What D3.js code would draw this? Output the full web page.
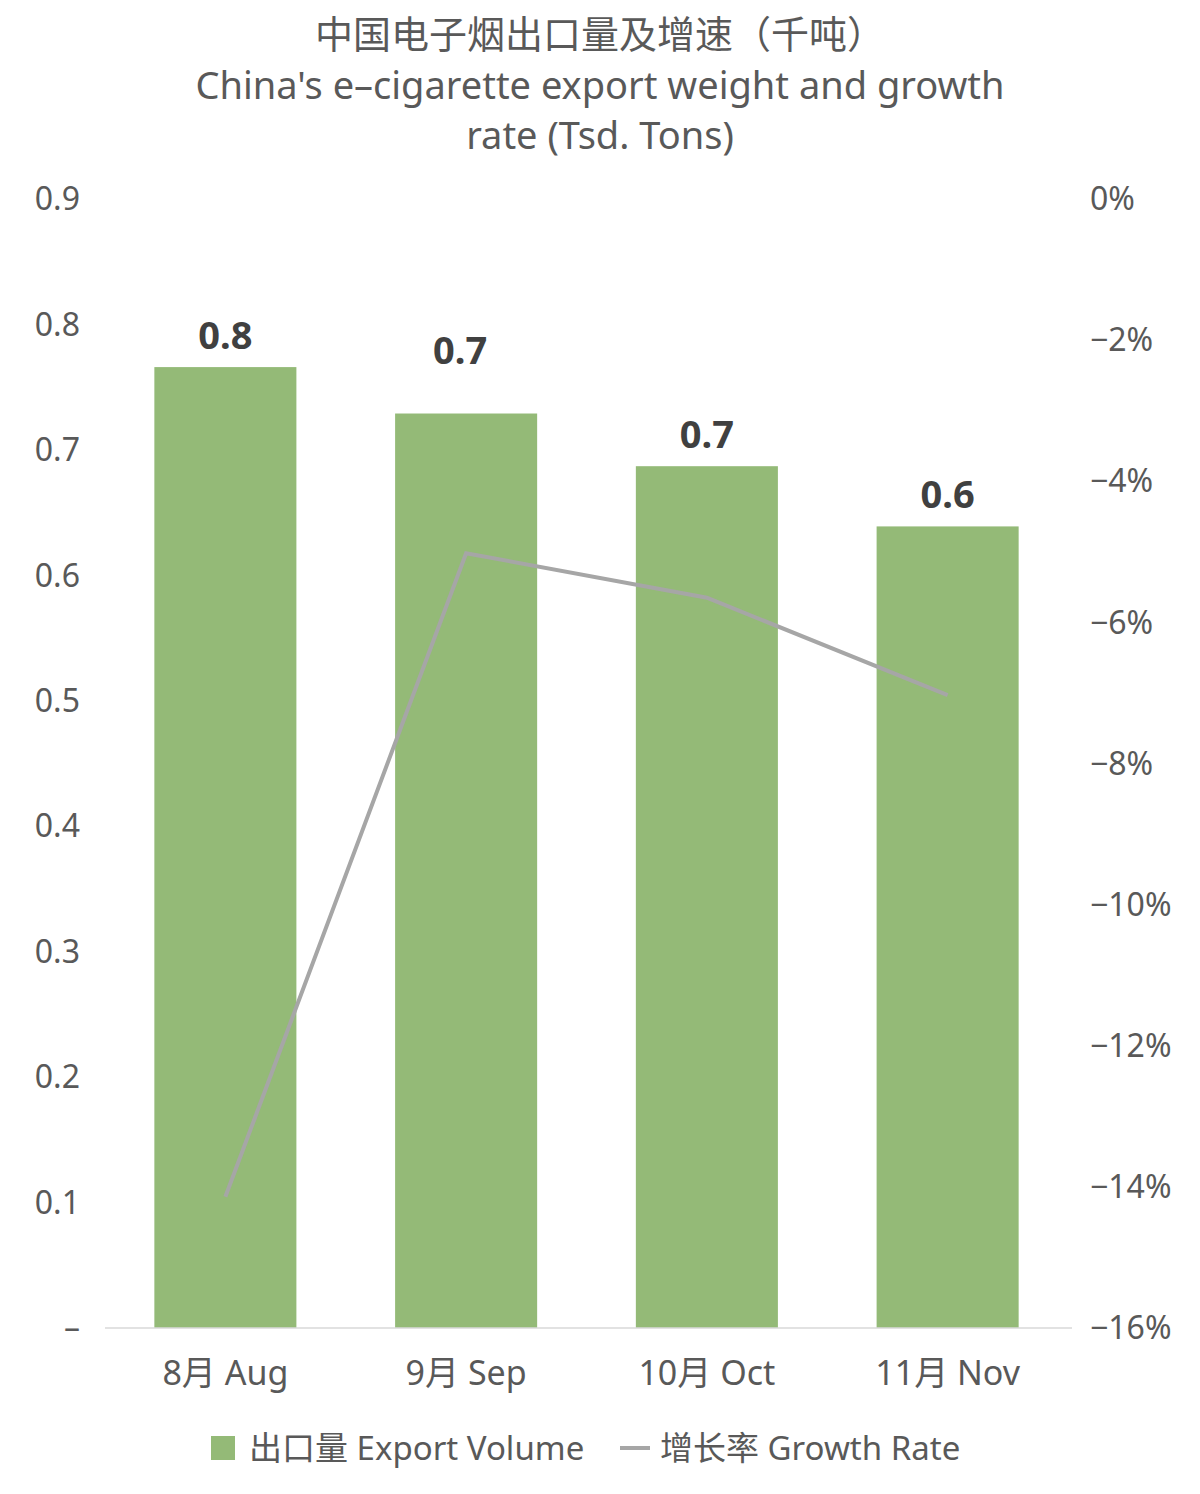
<!DOCTYPE html>
<html><head><meta charset="utf-8">
<script src="https://cdn.jsdelivr.net/npm/d3@7"></script>
<style>
body{margin:0;background:#fff;font-family:"Noto Sans","Noto Sans CJK SC",sans-serif;}
</style></head>
<body><svg id="chart" width="1200" height="1494"></svg>
<script>
const categories = ["8月 Aug", "9月 Sep", "10月 Oct", "11月 Nov"];
const volumes = [0.766, 0.729, 0.687, 0.639];
const volumeLabels = ["0.8", "0.7", "0.7", "0.6"];
const growth = [-14.14, -5.02, -5.65, -7.03];
const leftTicks = [0, 0.1, 0.2, 0.3, 0.4, 0.5, 0.6, 0.7, 0.8, 0.9];
const rightTicks = [0, -2, -4, -6, -8, -10, -12, -14, -16];

const svg = d3.select("#chart");
const margin = { top: 199, bottom: 166, left: 105, right: 132 };
const W = 1200, H = 1494;
const innerH = H - margin.top - margin.bottom;

const x = d3.scaleBand().domain(categories).range([margin.left, W - margin.right]).paddingInner(0.41).paddingOuter(0.205);
const y = d3.scaleLinear().domain([0, 0.9]).range([margin.top + innerH, margin.top]);
const y2 = d3.scaleLinear().domain([-16, 0]).range([margin.top + innerH, margin.top]);

svg.append("g").selectAll("text").data([
  ["中国电子烟出口量及增速（千吨）", 48],
  ["China's e–cigarette export weight and growth", 99],
  ["rate (Tsd. Tons)", 149]
]).join("text").attr("x", 600).attr("y", d => d[1]).attr("text-anchor", "middle")
  .attr("font-size", 38).attr("fill", "#595959").text(d => d[0]);

svg.append("g").selectAll("text").data(leftTicks).join("text")
  .attr("x", 80).attr("y", d => y(d)).attr("dy", "0.35em")
  .attr("text-anchor", "end").attr("font-size", 32).attr("fill", "#595959")
  .text(d => d === 0 ? "–" : d3.format(".1f")(d));

svg.append("g").selectAll("text").data(rightTicks).join("text")
  .attr("x", 1090).attr("y", d => y2(d)).attr("dy", "0.35em")
  .attr("font-size", 32).attr("fill", "#595959")
  .text(d => (d < 0 ? "−" + Math.abs(d) : d) + "%");

svg.append("g").selectAll("rect").data(volumes).join("rect")
  .attr("x", (d, i) => x(categories[i])).attr("width", x.bandwidth())
  .attr("y", d => y(d)).attr("height", d => y(0) - y(d)).attr("fill", "#94BA77");

svg.append("line").attr("x1", margin.left).attr("x2", W - margin.right + 4)
  .attr("y1", y(0)).attr("y2", y(0)).attr("stroke", "#d9d9d9").attr("stroke-width", 1.5);

const labelOffsets = [18, 50, 18, 18];
svg.append("g").selectAll("text").data(volumes).join("text")
  .attr("x", (d, i) => x(categories[i]) + x.bandwidth() / 2 + (i === 1 ? -6 : 0))
  .attr("y", (d, i) => y(d) - labelOffsets[i]).attr("text-anchor", "middle")
  .attr("font-size", 38).attr("font-weight", "bold").attr("fill", "#404040")
  .text((d, i) => volumeLabels[i]);

const line = d3.line().x((d, i) => x(categories[i]) + x.bandwidth() / 2).y(d => y2(d));
svg.append("path").datum(growth).attr("d", line).attr("fill", "none")
  .attr("stroke", "#A6A6A6").attr("stroke-width", 4);

svg.append("g").selectAll("text").data(categories).join("text")
  .attr("x", d => x(d) + x.bandwidth() / 2).attr("y", 1385).attr("text-anchor", "middle")
  .attr("font-size", 34).attr("fill", "#595959").text(d => d);

const lg = svg.append("g");
lg.append("rect").attr("x", 211).attr("y", 1436).attr("width", 24).attr("height", 24).attr("fill", "#94BA77");
lg.append("text").attr("x", 249).attr("y", 1460).attr("font-size", 33).attr("fill", "#595959").text("出口量 Export Volume");
lg.append("line").attr("x1", 620).attr("x2", 650).attr("y1", 1448).attr("y2", 1448).attr("stroke", "#A6A6A6").attr("stroke-width", 4);
lg.append("text").attr("x", 660).attr("y", 1460).attr("font-size", 33).attr("fill", "#595959").text("增长率 Growth Rate");
</script></body></html>
